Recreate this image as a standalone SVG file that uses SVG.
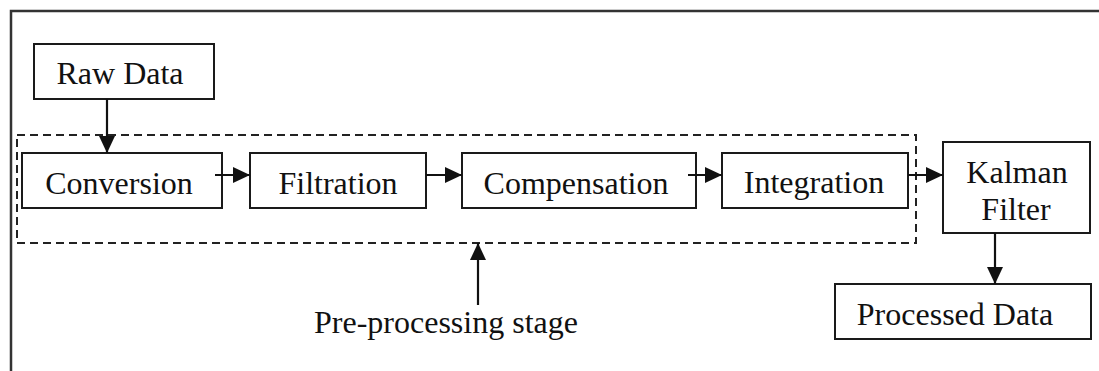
<svg xmlns="http://www.w3.org/2000/svg" width="1099" height="371" viewBox="0 0 1099 371">
  <style>
    .box { fill: #fff; stroke: #1a1a1a; stroke-width: 2; }
    .label { font-family: "Liberation Serif", "Times New Roman", serif; font-size: 32px; fill: #111; text-anchor: middle; }
    .wire { fill: none; stroke: #111; stroke-width: 2.2; }
    .group { fill: none; stroke: #222; stroke-width: 2; stroke-dasharray: 8 5; }
    .frame { fill: none; stroke: #333; stroke-width: 2.5; }
  </style>
  <defs>
    <marker id="head" markerUnits="userSpaceOnUse" markerWidth="18" markerHeight="16" refX="17" refY="8" orient="auto">
      <path d="M0,0 L17,8 L0,16 Z" fill="#111"/>
    </marker>
  </defs>

  <rect width="1099" height="371" fill="#fff"/>

  <!-- outer frame (top and left edges) -->
  <path class="frame" d="M11,371 L11,11 L1099,11"/>

  <!-- pre-processing stage boundary -->
  <rect id="preprocessing" class="group" x="17" y="135" width="899" height="108"/>

  <g id="raw-data">
    <rect class="box" x="34" y="44" width="180" height="55"/>
    <text class="label" x="120" y="84">Raw Data</text>
  </g>

  <g id="conversion">
    <rect class="box" x="22" y="153" width="200" height="55"/>
    <text class="label" x="119" y="194">Conversion</text>
  </g>

  <g id="filtration">
    <rect class="box" x="250" y="153" width="176" height="55"/>
    <text class="label" x="338" y="194">Filtration</text>
  </g>

  <g id="compensation">
    <rect class="box" x="462" y="153" width="234" height="55"/>
    <text class="label" x="576" y="194">Compensation</text>
  </g>

  <g id="integration">
    <rect class="box" x="722" y="153" width="186" height="55"/>
    <text class="label" x="814" y="193">Integration</text>
  </g>

  <g id="kalman-filter">
    <rect class="box" x="943" y="142" width="147" height="91"/>
    <text class="label" x="1017" y="183">Kalman</text>
    <text class="label" x="1016" y="220">Filter</text>
  </g>

  <g id="processed-data">
    <rect class="box" x="835" y="284" width="256" height="55"/>
    <text class="label" x="955" y="325">Processed Data</text>
  </g>

  <g id="stage-label">
    <text class="label" x="446" y="333">Pre-processing stage</text>
  </g>

  <g id="connectors">
    <line class="wire" x1="107" y1="99" x2="107" y2="153" marker-end="url(#head)"/>
    <line class="wire" x1="215" y1="175" x2="250" y2="175" marker-end="url(#head)"/>
    <line class="wire" x1="426" y1="175" x2="462" y2="175" marker-end="url(#head)"/>
    <line class="wire" x1="688" y1="175" x2="722" y2="175" marker-end="url(#head)"/>
    <line class="wire" x1="908" y1="175" x2="943" y2="175" marker-end="url(#head)"/>
    <line class="wire" x1="995" y1="233" x2="995" y2="284" marker-end="url(#head)"/>
    <line class="wire" x1="478" y1="305" x2="478" y2="243" marker-end="url(#head)"/>
  </g>
</svg>
